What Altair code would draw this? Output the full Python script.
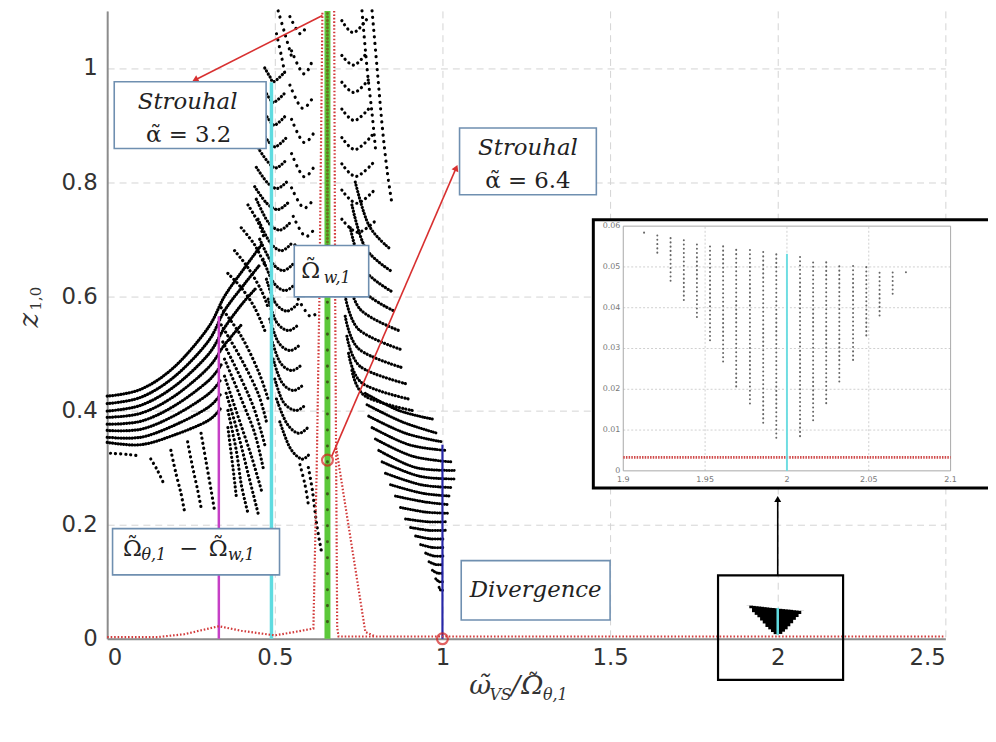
import altair as alt
import pandas as pd

# ---------------- axis ticks ----------------
X_TICKS = [0, 0.5, 1, 1.5, 2, 2.5]
Y_TICKS = [0, 0.2, 0.4, 0.6, 0.8, 1]

# ---------------- black dotted response curves (x, z) ----------------
LEFT_RISING = [
    [(0, 0.425), (0.1, 0.437), (0.2, 0.476), (0.3, 0.544), (0.35, 0.60), (0.41, 0.65), (0.46, 0.69)],
    [(0, 0.412), (0.1, 0.423), (0.2, 0.459), (0.3, 0.520), (0.35, 0.575), (0.41, 0.622), (0.455, 0.655)],
    [(0, 0.399), (0.1, 0.409), (0.2, 0.442), (0.3, 0.497), (0.35, 0.545), (0.40, 0.585), (0.445, 0.615)],
    [(0, 0.388), (0.1, 0.395), (0.2, 0.425), (0.3, 0.474), (0.35, 0.515), (0.40, 0.55)],
    [(0, 0.376), (0.1, 0.381), (0.2, 0.408), (0.3, 0.451), (0.34, 0.48)],
    [(0, 0.365), (0.1, 0.367), (0.2, 0.391), (0.3, 0.428), (0.34, 0.455)],
    [(0, 0.353), (0.1, 0.353), (0.2, 0.374), (0.3, 0.405), (0.34, 0.43)],
    [(0, 0.344), (0.1, 0.340), (0.2, 0.357), (0.3, 0.382), (0.34, 0.405)],
]
LOWER_LEFT = [
    [(0.01, 0.325), (0.06, 0.323), (0.10, 0.320)],
    [(0.13, 0.315), (0.15, 0.295), (0.17, 0.270)],
    [(0.19, 0.330), (0.205, 0.290), (0.22, 0.255), (0.23, 0.225)],
    [(0.24, 0.345), (0.255, 0.300), (0.27, 0.260), (0.28, 0.230)],
    [(0.28, 0.360), (0.295, 0.310), (0.31, 0.260), (0.32, 0.225)],
]
FAN = [
    [(0.34, 0.58), (0.40, 0.53), (0.45, 0.47), (0.48, 0.42)],
    [(0.34, 0.55), (0.40, 0.49), (0.45, 0.43), (0.475, 0.38)],
    [(0.345, 0.52), (0.40, 0.455), (0.44, 0.40), (0.47, 0.34)],
    [(0.35, 0.49), (0.40, 0.42), (0.44, 0.36), (0.465, 0.30)],
    [(0.35, 0.46), (0.39, 0.39), (0.43, 0.32), (0.46, 0.26)],
    [(0.355, 0.43), (0.39, 0.36), (0.42, 0.29), (0.45, 0.22)],
    [(0.36, 0.40), (0.385, 0.33), (0.40, 0.27), (0.42, 0.22)],
    [(0.36, 0.37), (0.375, 0.30), (0.385, 0.25)],
    [(0.36, 0.64), (0.40, 0.615), (0.44, 0.58), (0.47, 0.54)],
    [(0.38, 0.68), (0.42, 0.65), (0.46, 0.61), (0.48, 0.58)],
    [(0.40, 0.72), (0.44, 0.69), (0.47, 0.655)],
    [(0.42, 0.76), (0.45, 0.73), (0.47, 0.70)],
]
U_CYAN = [
    [(0.47, 1.000), (0.485, 0.985), (0.497, 0.976), (0.525, 0.990)],
    [(0.465, 0.965), (0.483, 0.948), (0.498, 0.940), (0.528, 0.955)],
    [(0.46, 0.930), (0.482, 0.910), (0.500, 0.900), (0.530, 0.915)],
    [(0.455, 0.895), (0.480, 0.872), (0.502, 0.862), (0.533, 0.877)],
    [(0.45, 0.860), (0.480, 0.835), (0.505, 0.825), (0.536, 0.840)],
    [(0.445, 0.826), (0.478, 0.799), (0.508, 0.789), (0.540, 0.803)],
    [(0.44, 0.792), (0.476, 0.763), (0.510, 0.752), (0.543, 0.766)],
    [(0.445, 0.770), (0.480, 0.730), (0.515, 0.716), (0.547, 0.730)],
    [(0.45, 0.735), (0.485, 0.695), (0.520, 0.680), (0.552, 0.694)],
    [(0.455, 0.700), (0.490, 0.660), (0.525, 0.645), (0.557, 0.658)],
    [(0.465, 0.665), (0.495, 0.625), (0.530, 0.610), (0.562, 0.622)],
    [(0.475, 0.630), (0.500, 0.590), (0.535, 0.574), (0.567, 0.586)],
    [(0.48, 0.595), (0.505, 0.555), (0.540, 0.540), (0.572, 0.551)],
    [(0.485, 0.560), (0.510, 0.520), (0.545, 0.505), (0.577, 0.516)],
    [(0.49, 0.525), (0.515, 0.485), (0.550, 0.470), (0.582, 0.481)],
    [(0.495, 0.490), (0.520, 0.450), (0.555, 0.435), (0.587, 0.446)],
    [(0.50, 0.455), (0.525, 0.415), (0.562, 0.400), (0.592, 0.410)],
    [(0.505, 0.420), (0.535, 0.378), (0.570, 0.360), (0.598, 0.370)],
    [(0.515, 0.380), (0.545, 0.335), (0.580, 0.315), (0.605, 0.325)],
]
MID_SPARSE = [
    [(0.545, 1.09), (0.575, 1.06), (0.595, 1.075)],
    [(0.55, 1.03), (0.585, 0.99), (0.61, 1.01)],
    [(0.545, 0.97), (0.58, 0.93), (0.61, 0.945)],
    [(0.55, 0.91), (0.585, 0.87), (0.615, 0.885)],
    [(0.55, 0.85), (0.585, 0.81), (0.615, 0.825)],
    [(0.55, 0.79), (0.585, 0.755), (0.615, 0.77)],
    [(0.555, 0.74), (0.59, 0.705), (0.62, 0.72)],
    [(0.56, 0.69), (0.595, 0.655), (0.62, 0.67)],
    [(0.565, 0.64), (0.60, 0.61), (0.625, 0.62)],
    [(0.57, 0.595), (0.605, 0.565), (0.63, 0.575)],
    [(0.51, 1.10), (0.53, 1.06), (0.55, 1.02)],
    [(0.505, 1.06), (0.52, 1.02), (0.53, 0.99)],
]
NEAR_GREEN = [
    [(0.60, 0.30), (0.612, 0.26), (0.625, 0.20), (0.64, 0.15)],
    [(0.575, 0.305), (0.59, 0.27), (0.60, 0.235)],
]
U_RIGHT = [
    [(0.70, 1.083), (0.735, 1.062), (0.78, 1.09)],
    [(0.70, 1.022), (0.736, 1.005), (0.776, 1.028)],
    [(0.70, 0.975), (0.737, 0.957), (0.78, 0.98)],
    [(0.70, 0.928), (0.738, 0.908), (0.785, 0.932)],
    [(0.70, 0.878), (0.740, 0.857), (0.79, 0.882)],
    [(0.70, 0.832), (0.742, 0.810), (0.795, 0.835)],
    [(0.70, 0.786), (0.745, 0.763), (0.80, 0.788)],
    [(0.70, 0.735), (0.748, 0.712), (0.805, 0.735)],
]
RIGHT_OUTER = [
    [(0.79, 1.10), (0.805, 1.00), (0.82, 0.90), (0.835, 0.82), (0.85, 0.76)],
    [(0.76, 1.10), (0.775, 1.00), (0.79, 0.92), (0.80, 0.86)],
]
RIGHT_ARCS = [
    [(0.74, 0.80), (0.78, 0.725), (0.84, 0.685)],
    [(0.73, 0.76), (0.77, 0.685), (0.845, 0.645)],
    [(0.725, 0.72), (0.765, 0.648), (0.85, 0.608)],
    [(0.72, 0.68), (0.76, 0.612), (0.86, 0.573)],
    [(0.715, 0.64), (0.755, 0.577), (0.87, 0.54)],
    [(0.71, 0.60), (0.75, 0.542), (0.875, 0.507)],
    [(0.71, 0.565), (0.75, 0.508), (0.88, 0.475)],
    [(0.715, 0.53), (0.755, 0.477), (0.89, 0.447)],
    [(0.72, 0.50), (0.76, 0.448), (0.90, 0.42)],
    [(0.73, 0.47), (0.77, 0.425), (0.91, 0.40)],
]
RIGHT_DENSE = [
    [(0.77, 0.43), (0.87, 0.40), (0.97, 0.385)],
    [(0.775, 0.41), (0.88, 0.38), (0.985, 0.36)],
    [(0.78, 0.39), (0.89, 0.36), (1.0, 0.345)],
    [(0.79, 0.37), (0.90, 0.34), (1.01, 0.33)],
    [(0.80, 0.35), (0.91, 0.32), (1.025, 0.31)],
    [(0.81, 0.33), (0.92, 0.30), (1.035, 0.295)],
    [(0.82, 0.31), (0.93, 0.285), (1.035, 0.28)],
    [(0.83, 0.29), (0.935, 0.27), (1.03, 0.265)],
    [(0.845, 0.27), (0.94, 0.255), (1.025, 0.25)],
    [(0.86, 0.25), (0.945, 0.24), (1.02, 0.235)],
    [(0.875, 0.23), (0.95, 0.222), (1.015, 0.22)],
    [(0.89, 0.21), (0.955, 0.205), (1.012, 0.205)],
    [(0.905, 0.195), (0.96, 0.19), (1.01, 0.19)],
    [(0.92, 0.18), (0.965, 0.175), (1.007, 0.175)],
    [(0.935, 0.165), (0.97, 0.16), (1.005, 0.16)],
    [(0.95, 0.15), (0.975, 0.145), (1.003, 0.145)],
    [(0.96, 0.135), (0.98, 0.13), (1.0, 0.13)],
    [(0.97, 0.12), (0.985, 0.115), (1.0, 0.115)],
    [(0.98, 0.105), (0.99, 0.10), (1.0, 0.10)],
    [(0.99, 0.09), (0.995, 0.085), (1.0, 0.085)],
]

# ---------------- coloured natural-frequency lines: x, z from, z to ----------------
MAGENTA_LINE = [(0.333, 0.0, 0.565)]
CYAN_LINE = [(0.49, 0.0, 0.975)]
GREEN_LINE = [(0.657, 0.0, 1.1)]
BLUE_LINE = [(1.0, 0.0, 0.34)]
GREEN_DOTS_UPPER = [(0.657, 0.62, 1.1)]
GREEN_DOTS_LOWER = [(0.657, 0.03, 0.62)]

# ---------------- red dotted response ----------------
RED_PATHS = [
    [(0, 0.003), (0.15, 0.003), (0.23, 0.008), (0.333, 0.022), (0.40, 0.014), (0.50, 0.006),
     (0.56, 0.012), (0.615, 0.018), (0.625, 0.30), (0.633, 0.60), (0.642, 1.1)],
    [(0.677, 1.1), (0.68, 0.6), (0.683, 0.3), (0.686, 0.02), (0.69, 0.004), (2.5, 0.004)],
    [(0.683, 0.335), (0.77, 0.012), (0.80, 0.004)],
]
RED_CIRCLES = [(0.657, 0.313), (1.0, 0.0)]

# ---------------- annotations (data units) ----------------
BOX_X0 = [0.021, 1.051, 0.558, 0.016, 1.056]
BOX_X1 = [0.474, 1.459, 0.780, 0.514, 1.500]
BOX_Y0 = [0.859, 0.778, 0.599, 0.112, 0.033]
BOX_Y1 = [0.976, 0.895, 0.689, 0.193, 0.137]

ITALIC_TEXT = ["Strouhal", "Strouhal", "Divergence"]
ITALIC_X = [0.240, 1.255, 1.278]
ITALIC_Y = [0.941, 0.860, 0.085]

PLAIN_TEXT = ["α\u0303 = 3.2", "α\u0303 = 6.4", "Ω", "Ω", "−", "Ω"]
PLAIN_X = [0.243, 1.255, 0.607, 0.075, 0.243, 0.331]
PLAIN_Y = [0.883, 0.802, 0.645, 0.158, 0.158, 0.158]

TILDE_X = [0.607, 0.075, 0.331]
TILDE_Y = [0.645, 0.158, 0.158]

SUB_TEXT = ["w,1", "θ,1", "w,1"]
SUB_X = [0.686, 0.139, 0.400]
SUB_Y = [0.632, 0.146, 0.146]

# arrows: from (x, z) to (x2, z2)
ARROW_X = [0.642, 0.670]
ARROW_Y = [1.092, 0.320]
ARROW_X2 = [0.262, 1.041]
ARROW_Y2 = [0.979, 0.825]
ARROW_ANGLE = [243, 23]

# zoom frame and inset frame
ZOOM_BOX = [(1.822, 2.195, -0.072, 0.111)]
INSET_BOX = [(1.450, 2.650, 0.264, 0.734)]
ZOOM_ARROW = [(2.0, 0.111, 0.245)]

# ---------------- inset: dot columns around omega = 2 ----------------
INSET_X = [1.9127, 1.9208, 1.9289, 1.937, 1.945, 1.953, 1.961, 1.969, 1.9774, 1.9855,
           1.9935, 2.008, 2.016, 2.024, 2.032, 2.0404, 2.0485, 2.0566, 2.0646, 2.0727]
INSET_TOP = [0.0586, 0.0581, 0.0576, 0.0570, 0.0565, 0.0560, 0.0554, 0.0549, 0.0543, 0.0539,
             0.0535, 0.0525, 0.0520, 0.0515, 0.0511, 0.0507, 0.0500, 0.0495, 0.0490, 0.0489]
INSET_BOT = [0.0584, 0.0535, 0.0466, 0.0419, 0.0377, 0.0320, 0.0268, 0.0207, 0.0165, 0.0118,
             0.0081, 0.0085, 0.0124, 0.0166, 0.0219, 0.0272, 0.0332, 0.0381, 0.0434, 0.0487]
INSET_CYAN = [(2.0, 0.0, 0.0532)]
INSET_RED_Y = 0.0033
INSET_X_TICKS = [1.9, 1.95, 2.0, 2.05, 2.1]
INSET_X_LABELS = ["1.9", "1.95", "2", "2.05", "2.1"]
INSET_Y_TICKS = [0, 0.01, 0.02, 0.03, 0.04, 0.05, 0.06]
INSET_Y_LABELS = ["0", "0.01", "0.02", "0.03", "0.04", "0.05", "0.06"]

# ================= build =================
def curves_df(curves):
    rows = []
    for c, pts in enumerate(curves):
        for i, (x, y) in enumerate(pts):
            rows.append({"c": c, "i": i, "x": x, "y": y})
    return pd.DataFrame(rows)


xs = alt.Scale(domain=[0, 2.5], nice=False, zero=False)
ys = alt.Scale(domain=[0, 1.1], nice=False, zero=False)
axis_common = dict(grid=True, gridDash=[7, 5], gridColor="#d3d3d3", gridWidth=1, ticks=False,
                   domainColor="#8c8c8c", domainWidth=2, labelFont="DejaVu Sans",
                   labelFontSize=23, labelColor="#333333", title=None, format="~g")
xaxis = alt.Axis(values=X_TICKS, labelPadding=8, **axis_common)
yaxis = alt.Axis(values=Y_TICKS, labelPadding=10, **axis_common)


def X(f):
    return alt.X(f, type="quantitative", scale=xs, axis=xaxis)


def Y(f):
    return alt.Y(f, type="quantitative", scale=ys, axis=yaxis)


def dotted(curves, gap, width=3.2, color="black", interp="cardinal", dash=None, cap="round"):
    return alt.Chart(curves_df(curves)).mark_line(
        strokeDash=dash if dash else [0.1, gap], strokeCap=cap, strokeWidth=width, color=color,
        interpolate=interp
    ).encode(x=X("x"), y=Y("y"), detail="c:N", order="i:Q")


def vline(rows, color, width, dash=None, cap="butt"):
    df = pd.DataFrame(rows, columns=["x", "y0", "y1"])
    kw = dict(color=color, strokeWidth=width, strokeCap=cap)
    if dash:
        kw["strokeDash"] = dash
    return alt.Chart(df).mark_rule(**kw).encode(x=X("x"), y=Y("y0"), y2=alt.Y2("y1"))


main_layers = [
    dotted(LEFT_RISING, 2.7),
    dotted(LOWER_LEFT, 5.0),
    dotted(FAN, 4.2),
    dotted(U_CYAN, 3.4),
    dotted(MID_SPARSE, 6.5),
    dotted(NEAR_GREEN, 5.5),
    dotted(U_RIGHT, 5.0),
    dotted(RIGHT_OUTER, 6.5),
    dotted(RIGHT_ARCS, 3.2),
    dotted(RIGHT_DENSE, 2.4, width=3.0),
    vline(MAGENTA_LINE, "#c63fc6", 2.5),
    vline(CYAN_LINE, "#5fdbe0", 3.5),
    vline(GREEN_LINE, "#5cc83a", 6),
    vline(GREEN_DOTS_UPPER, "#6b7320", 3, dash=[0.1, 3.5], cap="round"),
    vline(GREEN_DOTS_LOWER, "#3d5a1a", 3, dash=[0.1, 16], cap="round"),
    vline(BLUE_LINE, "#2727a8", 2.2),
    dotted(RED_PATHS, 0, width=2.2, color="#d23b3b", interp="linear", dash=[1.6, 1.9], cap="butt"),
]

circ = pd.DataFrame(RED_CIRCLES, columns=["x", "y"])
main_layers.append(alt.Chart(circ).mark_point(shape="circle", filled=False, color="#d42020",
                                               strokeWidth=2.2, size=120).encode(x=X("x"), y=Y("y")))

arr = pd.DataFrame({"x": ARROW_X, "y": ARROW_Y, "x2": ARROW_X2, "y2": ARROW_Y2, "a": ARROW_ANGLE})
main_layers.append(alt.Chart(arr).mark_rule(color="#d83030", strokeWidth=1.6).encode(
    x=X("x"), y=Y("y"), x2=alt.X2("x2"), y2=alt.Y2("y2")))
for k in range(len(ARROW_X)):
    main_layers.append(alt.Chart(arr.iloc[[k]]).mark_point(
        shape="triangle-up", filled=True, color="#d83030", size=55, angle=ARROW_ANGLE[k], opacity=1
    ).encode(x=X("x2"), y=Y("y2")))

boxes = pd.DataFrame({"x0": BOX_X0, "x1": BOX_X1, "y0": BOX_Y0, "y1": BOX_Y1})
main_layers.append(alt.Chart(boxes).mark_rect(fill="white", stroke="#6f8fb0", strokeWidth=1.6).encode(
    x=X("x0"), x2=alt.X2("x1"), y=Y("y0"), y2=alt.Y2("y1")))

it = pd.DataFrame({"t": ITALIC_TEXT, "x": ITALIC_X, "y": ITALIC_Y})
main_layers.append(alt.Chart(it).mark_text(font="DejaVu Serif", fontStyle="italic", fontSize=23,
                                            color="#222222", align="center", baseline="middle").encode(
    x=X("x"), y=Y("y"), text="t:N"))
pl = pd.DataFrame({"t": PLAIN_TEXT, "x": PLAIN_X, "y": PLAIN_Y})
main_layers.append(alt.Chart(pl).mark_text(font="DejaVu Serif", fontSize=23, color="#222222",
                                            align="center", baseline="middle").encode(
    x=X("x"), y=Y("y"), text="t:N"))
tl = pd.DataFrame({"t": ["˜"] * len(TILDE_X), "x": TILDE_X, "y": TILDE_Y})
main_layers.append(alt.Chart(tl).mark_text(font="DejaVu Serif", fontSize=22, color="#222222", dy=-3,
                                            align="center", baseline="middle").encode(
    x=X("x"), y=Y("y"), text="t:N"))
sb = pd.DataFrame({"t": SUB_TEXT, "x": SUB_X, "y": SUB_Y})
main_layers.append(alt.Chart(sb).mark_text(font="DejaVu Serif", fontStyle="italic", fontSize=16,
                                            color="#222222", align="center", baseline="middle").encode(
    x=X("x"), y=Y("y"), text="t:N"))

# axis titles built from pieces (data units outside the plot)
XT_TEXT = ["ω\u0303", "/", "Ω"]
XT_X = [1.080, 1.205, 1.235]
XT_Y = [-0.0974, -0.0974, -0.0974]
XS_TEXT = ["VS", "θ,1"]
XS_X = [1.140, 1.300]
XS_Y = [-0.1075, -0.1075]
xt = pd.DataFrame({"t": XT_TEXT, "x": XT_X, "y": XT_Y})
xsb = pd.DataFrame({"t": XS_TEXT, "x": XS_X, "y": XS_Y})
main_layers.append(alt.Chart(xt).mark_text(font="DejaVu Serif", fontStyle="italic", fontSize=27,
                                            color="#333333", align="left", baseline="alphabetic").encode(
    x=X("x"), y=Y("y"), text="t:N"))
main_layers.append(alt.Chart(pd.DataFrame({"t": ["˜"], "x": [XT_X[2]], "y": [XT_Y[2]]})).mark_text(
    font="DejaVu Serif", fontSize=24, color="#333333", align="left", baseline="alphabetic", dx=6, dy=-3).encode(
    x=X("x"), y=Y("y"), text="t:N"))
main_layers.append(alt.Chart(xsb).mark_text(font="DejaVu Serif", fontStyle="italic", fontSize=16,
                                             color="#333333", align="left", baseline="alphabetic").encode(
    x=X("x"), y=Y("y"), text="t:N"))
yt = pd.DataFrame({"t": ["z"], "x": [-0.2308], "y": [0.5583]})
ysb = pd.DataFrame({"t": ["1,0"], "x": [-0.212], "y": [0.596]})
main_layers.append(alt.Chart(yt).mark_text(font="DejaVu Serif", fontStyle="italic", fontSize=28,
                                            color="#333333", angle=270, align="center", baseline="middle").encode(
    x=X("x"), y=Y("y"), text="t:N"))
main_layers.append(alt.Chart(ysb).mark_text(font="DejaVu Serif", fontSize=15,
                                             color="#333333", angle=270, align="center", baseline="middle").encode(
    x=X("x"), y=Y("y"), text="t:N"))

# zoom frame around omega=2 and its arrow
zb = pd.DataFrame(ZOOM_BOX, columns=["x0", "x1", "y0", "y1"])
main_layers.append(alt.Chart(zb).mark_rect(fill=None, stroke="black", strokeWidth=2.2).encode(
    x=X("x0"), x2=alt.X2("x1"), y=Y("y0"), y2=alt.Y2("y1")))
za = pd.DataFrame(ZOOM_ARROW, columns=["x", "y0", "y1"])
main_layers.append(alt.Chart(za).mark_rule(color="black", strokeWidth=1.6).encode(
    x=X("x"), y=Y("y0"), y2=alt.Y2("y1")))
main_layers.append(alt.Chart(za).mark_point(shape="triangle-up", filled=True, color="black", size=50,
                                             opacity=1).encode(x=X("x"), y=Y("y1")))

# the cloud near omega=2 at main scale (black triangle)
cols = pd.DataFrame({"x": INSET_X, "top": INSET_TOP, "bot": INSET_BOT})
main_layers.append(alt.Chart(cols).mark_rule(color="black", strokeWidth=3.8).encode(
    x=X("x"), y=Y("bot"), y2=alt.Y2("top")))
main_layers.append(alt.Chart(pd.DataFrame({"x": [2.0], "y0": [0.007], "y1": [0.054]})).mark_rule(
    color="#5fdbe0", strokeWidth=2.5).encode(x=X("x"), y=Y("y0"), y2=alt.Y2("y1")))

# inset frame (white, thick black border)
ib = pd.DataFrame(INSET_BOX, columns=["x0", "x1", "y0", "y1"])
main_layers.append(alt.Chart(ib).mark_rect(fill="white", stroke="black", strokeWidth=3).encode(
    x=X("x0"), x2=alt.X2("x1"), y=Y("y0"), y2=alt.Y2("y1")))

main = alt.layer(*main_layers)

# ================= inset (own scales) =================
ixs = alt.Scale(domain=[1.9, 2.1], range=[520.3, 850.3], nice=False, zero=False)
iys = alt.Scale(domain=[0, 0.06], range=[463.7, 217], nice=False, zero=False)


def IX(f):
    return alt.X(f, type="quantitative", scale=ixs, axis=None)


def IY(f):
    return alt.Y(f, type="quantitative", scale=iys, axis=None)


vg = pd.DataFrame({"x": INSET_X_TICKS[1:-1], "y0": [0] * 3, "y1": [0.06] * 3})
hg = pd.DataFrame({"y": INSET_Y_TICKS[1:-1], "x0": [1.9] * 5, "x1": [2.1] * 5})
frame = pd.DataFrame({"x0": [1.9], "x1": [2.1], "y0": [0], "y1": [0.06]})
xl = pd.DataFrame({"t": INSET_X_LABELS, "x": INSET_X_TICKS, "y": [0] * 5})
yl = pd.DataFrame({"t": INSET_Y_LABELS, "y": INSET_Y_TICKS, "x": [1.9] * 7})
ired = pd.DataFrame({"y": [INSET_RED_Y], "x0": [1.9], "x1": [2.1]})
icy = pd.DataFrame(INSET_CYAN, columns=["x", "y0", "y1"])

inset_layers = [
    alt.Chart(vg).mark_rule(color="#cfcfcf", strokeDash=[2, 2], strokeWidth=1).encode(
        x=IX("x"), y=IY("y0"), y2=alt.Y2("y1")),
    alt.Chart(hg).mark_rule(color="#cfcfcf", strokeDash=[2, 2], strokeWidth=1).encode(
        y=IY("y"), x=IX("x0"), x2=alt.X2("x1")),
    alt.Chart(frame).mark_rect(fill=None, stroke="#a8a8a8", strokeWidth=1).encode(
        x=IX("x0"), x2=alt.X2("x1"), y=IY("y0"), y2=alt.Y2("y1")),
    alt.Chart(ired).mark_rule(color="#cf4a4a", strokeDash=[1.5, 1.2], strokeWidth=2.6).encode(
        y=IY("y"), x=IX("x0"), x2=alt.X2("x1")),
    alt.Chart(cols).mark_rule(color="#666666", strokeDash=[0.1, 4.2], strokeCap="round", strokeWidth=2).encode(
        x=IX("x"), y=IY("bot"), y2=alt.Y2("top")),
    alt.Chart(icy).mark_rule(color="#6fdde2", strokeWidth=2).encode(
        x=IX("x"), y=IY("y0"), y2=alt.Y2("y1")),
    alt.Chart(xl).mark_text(font="DejaVu Sans", fontSize=8, color="#777777", dy=9,
                            align="center", baseline="middle").encode(x=IX("x"), y=IY("y"), text="t:N"),
    alt.Chart(yl).mark_text(font="DejaVu Sans", fontSize=8, color="#777777", dx=-3,
                            align="right", baseline="middle").encode(x=IX("x"), y=IY("y"), text="t:N"),
]
inset = alt.layer(*inset_layers)

chart = alt.layer(main, inset).resolve_scale(x="independent", y="independent").properties(
    width=845, height=633,
    autosize=alt.AutoSizeParams(type="none"),
    padding={"left": 100, "top": 0, "right": 43, "bottom": 85},
    background="white",
).configure_view(stroke=None)

chart.save("out.html", embed_options={"renderer": "svg", "actions": False})
